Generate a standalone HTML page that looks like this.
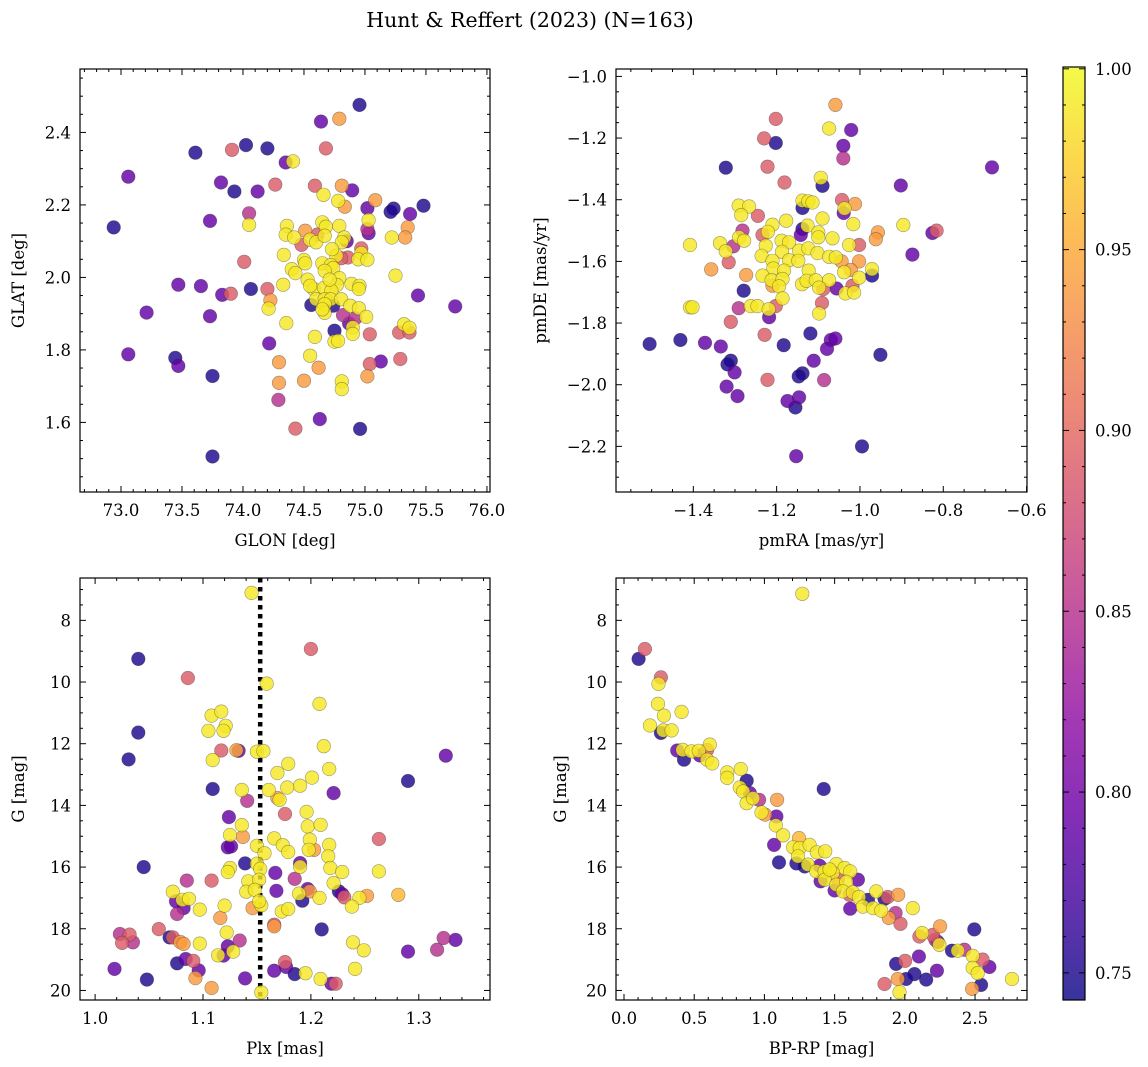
<!DOCTYPE html>
<html><head><meta charset="utf-8">
<style>
html,body{margin:0;padding:0;background:#fff;}
svg{display:block;font-family:"DejaVu Serif","Liberation Serif",serif;}
</style></head>
<body>
<svg id="fig" width="1148" height="1067" viewBox="0 0 1148 1067" xmlns="http://www.w3.org/2000/svg">
<text x="530" y="27" font-size="20.5" text-anchor="middle">Hunt &amp; Reffert (2023) (N=163)</text>
</svg>
<script>
// ---- Panel 1: GLON / GLAT ----
const p1Glon=[74.955,74.64,74.79,73.61,73.91,74.025,74.2,74.68,74.35,74.41,73.06,73.82,73.93,74.12,74.265,74.59,74.81,74.895,74.66,74.78,74.835,75.085,75.02,75.235,75.21,75.37,75.48,72.94,73.73,74.05,74.05,75.03,75.02,75.03,75.35,75.22,75.33,74.36,74.35,74.42,74.51,74.55,74.6,74.48,74.61,74.65,74.68,74.67,74.79,74.83,74.81,74.85,74.97,74.97,74.86,74.805,74.765,74.945,75.02,74.335,74.5,74.51,74.01,74.65,74.72,74.74,74.4,74.43,75.25,74.53,74.67,74.79,74.77,74.89,74.955,74.95,74.33,74.58,74.665,74.725,74.6,74.67,74.72,74.805,73.47,73.655,73.83,73.9,74.065,74.2,74.225,74.21,75.435,75.74,73.21,73.73,74.56,74.67,74.74,74.67,74.88,74.95,74.82,74.87,74.92,75.01,74.355,74.9,74.9,75.32,75.365,75.28,75.365,75.04,74.75,74.59,74.75,74.78,74.215,73.06,73.445,73.47,73.75,74.295,74.55,74.62,75.04,75.13,75.29,74.295,74.5,74.81,74.81,75.02,74.29,74.63,74.43,74.96,73.75,74.73,74.55,74.71,74.65];
const p1Glat=[2.476,2.43,2.438,2.344,2.352,2.365,2.356,2.356,2.317,2.32,2.278,2.262,2.237,2.237,2.256,2.253,2.253,2.24,2.228,2.211,2.195,2.213,2.191,2.19,2.181,2.175,2.198,2.138,2.156,2.177,2.145,2.158,2.133,2.122,2.138,2.11,2.11,2.142,2.118,2.11,2.129,2.104,2.097,2.09,2.118,2.152,2.14,2.115,2.142,2.11,2.097,2.1,2.08,2.067,2.055,2.053,2.06,2.05,2.049,2.062,2.048,2.039,2.043,2.039,2.034,2.026,2.023,2.012,2.005,1.994,2.018,1.998,1.979,1.982,1.977,1.968,1.98,1.968,1.971,1.963,1.94,1.94,1.94,1.94,1.98,1.976,1.952,1.955,1.968,1.968,1.937,1.914,1.95,1.92,1.903,1.893,1.924,1.926,1.922,1.902,1.922,1.915,1.896,1.873,1.887,1.891,1.874,1.862,1.844,1.871,1.861,1.848,1.848,1.843,1.853,1.836,1.823,1.825,1.818,1.788,1.778,1.756,1.728,1.766,1.784,1.751,1.761,1.768,1.775,1.709,1.715,1.713,1.692,1.727,1.662,1.609,1.583,1.582,1.506,2.078,1.977,1.994,1.912];
const p1Prob=[.75,.79,.94,.75,.89,.75,.75,.89,.79,.99,.79,.79,.75,.79,.89,.89,.94,.79,.99,.99,.94,.94,.79,.75,.75,.79,.75,.75,.79,.85,.99,.99,.85,.79,.94,.99,.94,.99,.99,.99,.94,.99,.99,.89,.89,.99,.99,.99,.99,.99,.99,.79,.89,.99,.89,.89,.99,.99,.99,.99,.99,.99,.89,.99,.99,.99,.99,.99,.99,.99,.99,.99,.99,.99,.99,.99,.99,.99,.99,.99,.99,.99,.99,.99,.79,.79,.79,.89,.75,.89,.94,.99,.79,.79,.79,.79,.75,.99,.75,.99,.99,.99,.85,.79,.85,.99,.99,.99,.99,.99,.99,.89,.89,.89,.75,.99,.99,.99,.79,.79,.75,.79,.75,.94,.99,.94,.89,.79,.89,.94,.94,.99,.99,.94,.85,.79,.89,.75,.75,.99,.99,.99,.99];
const p1XTicks=[73.0,73.5,74.0,74.5,75.0,75.5,76.0];
const p1YTicks=[1.6,1.8,2.0,2.2,2.4];

// ---- Panel 2: pmRA / pmDE ----
const p2PmRA=[-1.059,-1.202,-1.074,-1.021,-1.23,-1.202,-1.04,-1.04,-1.322,-1.222,-0.683,-1.181,-1.094,-1.09,-0.902,-1.043,-1.012,-1.037,-1.039,-1.138,-1.138,-1.124,-1.114,-1.291,-1.266,-1.285,-1.245,-1.177,-1.09,-1.016,-0.896,-1.282,-1.21,-1.234,-1.221,-1.29,-1.278,-1.336,-1.304,-1.322,-1.408,-1.138,-1.142,-1.126,-1.1,-1.1,-1.066,-0.826,-0.816,-0.957,-0.962,-1.026,-1.002,-0.874,-1.226,-1.188,-1.17,-1.187,-1.146,-1.124,-1.102,-1.236,-1.21,-1.17,-1.148,-1.074,-1.058,-1.044,-1.002,-1.315,-1.357,-1.208,-1.182,-1.123,-1.038,-1.022,-0.971,-0.971,-1.273,-1.234,-1.212,-1.186,-1.139,-1.128,-1.106,-1.074,-1.002,-1.21,-1.194,-1.098,-1.088,-1.056,-1.018,-1.035,-1.014,-1.279,-1.186,-1.408,-1.402,-1.291,-1.262,-1.246,-1.202,-1.219,-1.218,-1.091,-1.098,-1.31,-1.229,-1.119,-1.183,-1.505,-1.431,-1.372,-1.334,-1.07,-1.059,-1.079,-0.951,-1.31,-1.318,-1.301,-1.111,-1.222,-1.138,-1.147,-1.086,-1.32,-1.294,-1.174,-1.146,-1.155,-0.995,-1.153];
const p2PmDE=[-1.092,-1.138,-1.169,-1.174,-1.201,-1.216,-1.225,-1.266,-1.296,-1.293,-1.295,-1.344,-1.329,-1.355,-1.354,-1.401,-1.414,-1.428,-1.443,-1.427,-1.403,-1.405,-1.409,-1.419,-1.422,-1.45,-1.452,-1.468,-1.461,-1.479,-1.482,-1.5,-1.481,-1.514,-1.504,-1.522,-1.533,-1.541,-1.551,-1.567,-1.547,-1.495,-1.514,-1.484,-1.506,-1.522,-1.525,-1.508,-1.5,-1.506,-1.528,-1.547,-1.547,-1.578,-1.549,-1.533,-1.538,-1.569,-1.565,-1.558,-1.573,-1.582,-1.598,-1.596,-1.598,-1.585,-1.587,-1.6,-1.6,-1.603,-1.626,-1.623,-1.63,-1.63,-1.635,-1.628,-1.625,-1.646,-1.644,-1.646,-1.661,-1.657,-1.674,-1.663,-1.661,-1.661,-1.653,-1.679,-1.681,-1.685,-1.69,-1.688,-1.679,-1.704,-1.701,-1.695,-1.72,-1.749,-1.749,-1.752,-1.745,-1.745,-1.745,-1.755,-1.781,-1.735,-1.769,-1.796,-1.838,-1.834,-1.872,-1.868,-1.855,-1.864,-1.876,-1.855,-1.85,-1.884,-1.903,-1.922,-1.934,-1.96,-1.922,-1.984,-1.963,-1.973,-1.985,-2.006,-2.037,-2.053,-2.041,-2.074,-2.2,-2.232];
const p2Prob=[.94,.89,.99,.79,.89,.75,.79,.85,.75,.89,.79,.89,.99,.75,.79,.89,.94,.99,.79,.75,.99,.99,.99,.99,.99,.99,.89,.99,.99,.99,.99,.85,.99,.89,.99,.99,.99,.99,.85,.99,.99,.75,.79,.99,.99,.99,.99,.79,.89,.94,.94,.99,.89,.79,.99,.99,.99,.99,.99,.99,.99,.99,.99,.99,.99,.99,.99,.94,.94,.89,.94,.99,.99,.99,.99,.94,.99,.75,.94,.99,.99,.99,.99,.99,.99,.99,.99,.94,.99,.99,.89,.79,.89,.99,.99,.75,.99,.99,.99,.85,.99,.99,.89,.99,.79,.89,.99,.89,.89,.75,.75,.75,.75,.79,.79,.79,.79,.79,.75,.75,.75,.79,.79,.89,.75,.75,.85,.79,.79,.79,.79,.75,.75,.79];
const p2XTicks=[-1.4,-1.2,-1.0,-0.8,-0.6];
const p2YTicks=[-1.0,-1.2,-1.4,-1.6,-1.8,-2.0,-2.2];

// ---- Panel 3: Plx / G ----
const p3Plx=[1.145,1.2,1.04,1.086,1.159,1.208,1.108,1.117,1.105,1.121,1.119,1.04,1.031,1.117,1.131,1.133,1.15,1.156,1.109,1.212,1.325,1.179,1.169,1.217,1.201,1.19,1.178,1.29,1.109,1.136,1.161,1.169,1.171,1.221,1.141,1.176,1.124,1.196,1.136,1.197,1.209,1.125,1.137,1.166,1.199,1.217,1.174,1.123,1.126,1.15,1.179,1.157,1.198,1.203,1.263,1.216,1.045,1.139,1.125,1.123,1.15,1.153,1.19,1.19,1.218,1.229,1.263,1.167,1.085,1.108,1.142,1.152,1.185,1.221,1.072,1.14,1.148,1.168,1.197,1.199,1.189,1.226,1.229,1.231,1.252,1.245,1.281,1.075,1.081,1.087,1.082,1.076,1.097,1.12,1.146,1.154,1.152,1.192,1.208,1.238,1.173,1.179,1.116,1.059,1.122,1.166,1.166,1.21,1.023,1.032,1.025,1.035,1.069,1.072,1.079,1.082,1.097,1.134,1.239,1.249,1.29,1.317,1.323,1.334,1.123,1.114,1.119,1.128,1.076,1.084,1.091,1.096,1.093,1.018,1.048,1.108,1.139,1.154,1.166,1.176,1.177,1.185,1.195,1.209,1.219,1.223,1.241];
const p3G=[7.11,8.93,9.25,9.87,10.05,10.71,11.09,10.96,11.58,11.42,11.58,11.64,12.51,12.22,12.21,12.23,12.26,12.24,12.53,12.08,12.39,12.65,12.95,12.82,13.1,13.36,13.42,13.21,13.47,13.5,13.5,13.76,13.82,13.6,13.85,14.28,14.38,14.21,14.64,14.68,14.63,14.96,15.02,15.07,15.11,15.28,15.29,15.36,15.33,15.31,15.51,15.55,15.44,15.44,15.09,15.65,16.0,15.88,16.03,16.16,15.89,16.06,15.87,15.99,16.03,16.16,16.14,16.19,16.44,16.44,16.46,16.41,16.38,16.52,16.8,16.8,16.74,16.77,16.71,16.79,16.86,16.79,16.88,16.98,16.93,17.0,16.9,17.11,17.06,17.03,17.33,17.52,17.38,17.25,17.33,17.24,17.11,17.09,17.0,17.28,17.44,17.36,17.65,18.01,18.12,17.87,17.92,18.02,18.17,18.19,18.46,18.44,18.28,18.28,18.43,18.49,18.48,18.38,18.44,18.7,18.74,18.68,18.3,18.36,18.57,18.86,18.87,18.74,19.12,18.98,19.04,19.35,19.6,19.3,19.65,19.92,19.61,20.06,19.36,19.08,19.24,19.47,19.44,19.63,19.78,19.78,19.3];
const p3Prob=[.99,.89,.75,.89,.99,.99,.99,.99,.99,.99,.99,.75,.75,.89,.95,.79,.99,.99,.99,.99,.79,.99,.99,.99,.99,.99,.99,.75,.75,.99,.99,.94,.99,.79,.85,.89,.79,.99,.99,.99,.99,.99,.94,.99,.99,.99,.99,.79,.79,.99,.99,.99,.99,.94,.89,.99,.75,.75,.99,.99,.99,.99,.79,.99,.99,.99,.99,.79,.85,.89,.99,.99,.85,.99,.99,.99,.99,.79,.79,.94,.99,.75,.79,.89,.94,.99,.96,.79,.99,.99,.79,.85,.99,.99,.94,.99,.99,.75,.99,.99,.99,.99,.94,.89,.99,.89,.94,.75,.85,.89,.89,.85,.75,.89,.94,.94,.99,.85,.99,.99,.79,.85,.85,.79,.79,.99,.79,.99,.75,.79,.89,.79,.94,.79,.75,.94,.79,.99,.79,.89,.79,.75,.99,.99,.79,.89,.99];
const p3XTicks=[1.0,1.1,1.2,1.3];
const p3YTicks=[8,10,12,14,16,18,20];
const p3RefPlx=1.153;

// ---- Panel 4: BP-RP / G ----
const p4BpRp=[1.27,0.149,0.104,0.263,0.246,0.242,0.41,0.284,0.185,0.263,0.28,0.339,0.379,0.427,0.417,0.481,0.54,0.592,0.611,0.533,0.592,0.628,0.735,0.735,0.832,0.874,0.825,0.848,0.896,0.962,0.873,0.919,1.422,1.09,0.979,1.005,1.085,1.081,1.133,1.069,1.246,1.204,1.251,1.322,1.374,1.433,1.104,1.228,1.287,1.239,1.31,1.393,1.37,1.429,1.512,1.571,1.611,1.488,1.4,1.429,1.524,1.666,1.512,1.583,1.5,1.559,1.63,1.607,1.673,1.796,1.737,1.855,1.879,1.953,1.701,1.773,1.832,1.611,1.886,1.934,1.969,2.057,2.104,2.123,2.199,2.251,2.218,2.246,2.235,2.495,2.336,2.377,2.424,2.483,2.554,2.602,2.483,2.519,2.543,2.479,2.763,1.938,2.002,2.1,2.228,2.069,2.009,2.152,1.95,1.855,1.962,1.464];
const p4G=[7.14,8.93,9.25,9.85,10.06,10.71,10.97,11.09,11.41,11.65,11.57,11.57,12.22,12.52,12.2,12.25,12.38,12.2,12.03,12.23,12.52,12.64,12.93,13.11,12.82,13.2,13.42,13.55,13.6,13.82,13.93,13.77,13.47,13.82,14.23,14.3,14.36,14.65,14.97,15.28,15.06,15.36,15.38,15.28,15.52,15.49,15.85,15.88,15.98,15.65,15.92,15.96,16.14,16.14,15.9,16.03,16.14,16.19,16.46,16.41,16.39,16.41,16.57,16.48,16.76,16.79,16.82,16.9,16.97,16.79,17.06,17.03,16.97,16.9,17.28,17.33,17.41,17.35,17.65,17.49,17.84,17.33,18.25,18.14,18.2,17.92,18.36,18.52,18.43,18.02,18.71,18.71,18.68,18.88,19.0,19.24,19.27,19.44,19.82,19.95,19.63,19.14,19.04,18.9,19.36,19.47,19.63,19.65,19.63,19.79,20.06,16.08];
const p4Prob=[.99,.89,.75,.89,.99,.99,.99,.99,.99,.75,.99,.99,.79,.75,.99,.99,.79,.89,.99,.99,.99,.99,.99,.99,.99,.75,.99,.99,.79,.85,.99,.99,.75,.94,.99,.94,.79,.99,.99,.79,.96,.99,.99,.99,.99,.99,.75,.75,.75,.99,.99,.79,.99,.99,.99,.99,.99,.99,.79,.99,.89,.79,.99,.99,.79,.99,.99,.89,.99,.99,.75,.75,.89,.94,.99,.99,.99,.79,.94,.85,.89,.99,.89,.99,.89,.94,.85,.99,.79,.75,.75,.99,.85,.99,.89,.79,.99,.99,.75,.94,.99,.75,.89,.79,.79,.75,.75,.75,.94,.89,.99,.99];
const p4XTicks=[0.0,0.5,1.0,1.5,2.0,2.5];
const p4YTicks=[8,10,12,14,16,18,20];

// ---- Colorbar ----
const cbTicks=[0.75,0.80,0.85,0.90,0.95,1.00];
const cbMin=0.7425, cbMax=1.0005;

const NS="http://www.w3.org/2000/svg";
const svg=document.getElementById('fig');
function mk(tag,attrs,parent){const e=document.createElementNS(NS,tag);for(const k in attrs)e.setAttribute(k,attrs[k]);(parent||svg).appendChild(e);return e;}

const plasma=[[13,8,135],[65,4,157],[106,0,168],[143,13,164],[177,42,144],[204,71,120],[225,100,98],[242,132,75],[252,166,54],[252,206,37],[240,249,33]];
function cmap(v){let t=(v-cbMin)/(cbMax-cbMin);t=Math.max(0,Math.min(1,t));const s=t*10;const i=Math.min(9,Math.floor(s));const f=s-i;const a=plasma[i],b=plasma[i+1];return `rgb(${Math.round(a[0]+(b[0]-a[0])*f)},${Math.round(a[1]+(b[1]-a[1])*f)},${Math.round(a[2]+(b[2]-a[2])*f)})`;}
function lin(d0,d1,r0,r1){return v=>r0+(v-d0)/(d1-d0)*(r1-r0);}
function fmt(v,dec){const s=Math.abs(v).toFixed(dec);return (v<0?'\u2212':'')+s;}

function panel(cfg){
  const g=mk('g',{});
  
  
  const X=lin(cfg.xd[0],cfg.xd[1],cfg.L,cfg.R), Y=lin(cfg.yd[0],cfg.yd[1],cfg.B,cfg.T);
  if(cfg.vline!==undefined){
    const l=mk('line',{x1:X(cfg.vline),x2:X(cfg.vline),y1:cfg.T,y2:cfg.B,stroke:'#000','stroke-width':4.5,'stroke-dasharray':'4.5 4.5'},g);
    
    
  }
  const n=Math.min(cfg.xs.length,cfg.ys.length,cfg.ps.length);
  const idx=[...Array(n).keys()].sort((a,b)=>cfg.ps[a]-cfg.ps[b]);
  const pg=mk('g',{},g);
  
  
  for(const i of idx){
    const c=mk('circle',{cx:X(cfg.xs[i]).toFixed(1),cy:Y(cfg.ys[i]).toFixed(1),r:6.8,fill:cmap(cfg.ps[i]),'fill-opacity':0.82,stroke:'rgba(40,40,40,0.45)','stroke-width':0.6},pg);
    
    
  }
  const fr=mk('rect',{x:cfg.L,y:cfg.T,width:cfg.R-cfg.L,height:cfg.B-cfg.T,fill:'none',stroke:'#000','stroke-width':1.2},g);
  
  
  const tg=mk('g',{stroke:'#000','stroke-width':1},g);
  
  
  const xmin=Math.min(...cfg.xd),xmax=Math.max(...cfg.xd),ymin=Math.min(...cfg.yd),ymax=Math.max(...cfg.yd);
  for(let k=Math.ceil(xmin/cfg.xminor-1e-6);k*cfg.xminor<=xmax+1e-9;k++){const v=k*cfg.xminor;const px=X(v);
    const major=cfg.xt.some(t=>Math.abs(t-v)<1e-6);const len=major?6:3;
    mk('line',{x1:px,x2:px,y1:cfg.B,y2:cfg.B-len},tg);mk('line',{x1:px,x2:px,y1:cfg.T,y2:cfg.T+len},tg);}
  for(let k=Math.ceil(ymin/cfg.yminor-1e-6);k*cfg.yminor<=ymax+1e-9;k++){const v=k*cfg.yminor;const py=Y(v);
    const major=cfg.yt.some(t=>Math.abs(t-v)<1e-6);const len=major?6:3;
    mk('line',{x1:cfg.L,x2:cfg.L+len,y1:py,y2:py},tg);mk('line',{x1:cfg.R,x2:cfg.R-len,y1:py,y2:py},tg);}
  for(const t of cfg.xt){const tx=mk('text',{x:X(t),y:cfg.B+24,'font-size':16.5,'text-anchor':'middle'},g);tx.textContent=fmt(t,cfg.xdec);
    
    }
  for(const t of cfg.yt){const tx=mk('text',{x:cfg.L-9,y:Y(t)+6,'font-size':16.5,'text-anchor':'end'},g);tx.textContent=fmt(t,cfg.ydec);
    
    }
  const xl=mk('text',{x:(cfg.L+cfg.R)/2,y:cfg.B+54,'font-size':16.5,'text-anchor':'middle'},g);xl.textContent=cfg.xlabel;
  
  
  const yx=cfg.ylx,yy=(cfg.T+cfg.B)/2;
  const yl=mk('text',{x:yx,y:yy,'font-size':16.5,'text-anchor':'middle',transform:`rotate(-90 ${yx} ${yy})`},g);yl.textContent=cfg.ylabel;
  
  
}

panel({name:'panel-glon-glat',L:80,R:490,T:69,B:492,xd:[72.664,76.025],yd:[1.408,2.575],xs:p1Glon,ys:p1Glat,ps:p1Prob,xt:p1XTicks,yt:p1YTicks,xminor:0.1,yminor:0.05,xdec:1,ydec:1,xlabel:'GLON [deg]',ylabel:'GLAT [deg]',ylx:24});
panel({name:'panel-pmra-pmde',L:616,R:1027,T:69,B:492,xd:[-1.5856,-0.599],yd:[-2.348,-0.976],xs:p2PmRA,ys:p2PmDE,ps:p2Prob,xt:p2XTicks,yt:p2YTicks,xminor:0.05,yminor:0.05,xdec:1,ydec:1,xlabel:'pmRA [mas/yr]',ylabel:'pmDE [mas/yr]',ylx:546});
panel({name:'panel-plx-g',L:80,R:490,T:578,B:1000,xd:[0.986,1.366],yd:[20.31,6.627],xs:p3Plx,ys:p3G,ps:p3Prob,xt:p3XTicks,yt:p3YTicks,xminor:0.02,yminor:0.5,xdec:1,ydec:0,xlabel:'Plx [mas]',ylabel:'G [mag]',ylx:24,vline:p3RefPlx});
panel({name:'panel-bprp-g',L:616,R:1027,T:578,B:1000,xd:[-0.057,2.87],yd:[20.31,6.627],xs:p4BpRp,ys:p4G,ps:p4Prob,xt:p4XTicks,yt:p4YTicks,xminor:0.1,yminor:0.5,xdec:1,ydec:0,xlabel:'BP-RP [mag]',ylabel:'G [mag]',ylx:566});

(function(){
  const L=1063,R=1085,T=67,B=1000;
  const g=mk('g',{});
  
  
  const defs=mk('defs',{},g);
  const grad=mk('linearGradient',{id:'plasmaGrad',x1:0,y1:1,x2:0,y2:0},defs);
  for(let i=0;i<=20;i++){const v=cbMin+(cbMax-cbMin)*i/20;mk('stop',{offset:(i/20),'stop-color':cmap(v),'stop-opacity':0.82},grad);}
  mk('rect',{x:L,y:T,width:R-L,height:B-T,fill:'url(#plasmaGrad)',stroke:'#000','stroke-width':1.2},g);
  const Y=lin(cbMin,cbMax,B,T);
  for(let k=75;k<=100;k++){const v=k/100;const y=Y(v);const major=(k%5===0);
    mk('line',{x1:R,x2:R-(major?6:3),y1:y,y2:y,stroke:'#000','stroke-width':1},g);
    mk('line',{x1:L,x2:L+(major?6:3),y1:y,y2:y,stroke:'#000','stroke-width':1},g);}
  for(const t of cbTicks){const tx=mk('text',{x:R+10,y:Y(t)+6,'font-size':16.5},g);tx.textContent=t.toFixed(2);
    
    }
})();
</script>
</body></html>
